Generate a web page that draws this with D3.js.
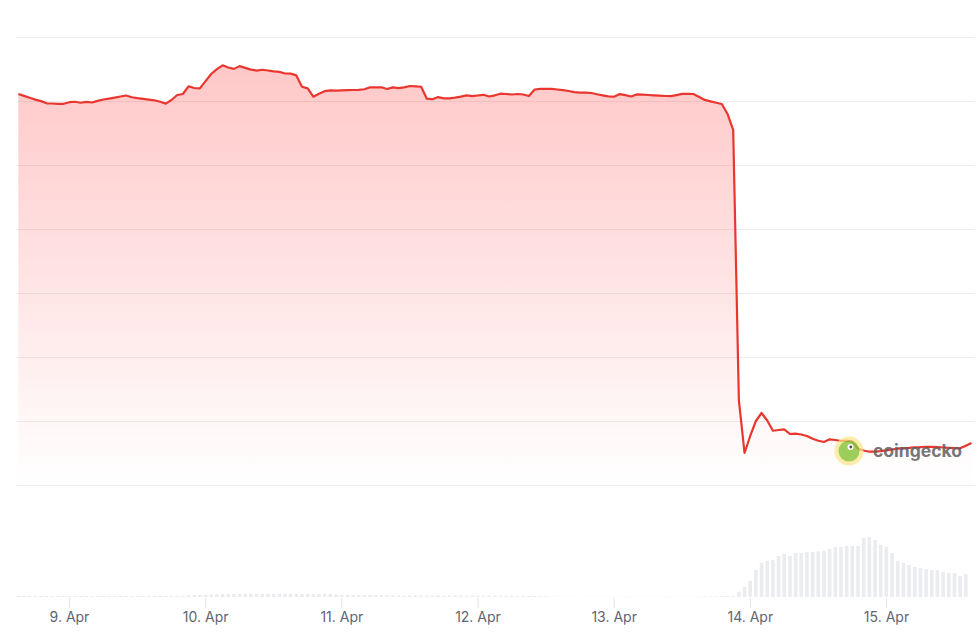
<!DOCTYPE html>
<html>
<head>
<meta charset="utf-8">
<script src="https://cdn.jsdelivr.net/npm/d3@7"></script>
<style>
  body { margin: 0; background: #fff; }
  svg { display: block; font-family: Inter, "Noto Sans", sans-serif; }
</style>
</head>
<body>
<svg id="chart" width="977" height="632"></svg>
<script>
// hourly price (USD), starting 8 Apr 15:04 UTC
var prices = [
  6.109, 6.080, 6.050, 6.022, 5.998, 5.964, 5.961, 5.956, 5.956, 5.981,
  5.988, 5.973, 5.986, 5.977, 6.002, 6.023, 6.038, 6.053, 6.070, 6.086,
  6.059, 6.044, 6.033, 6.022, 6.011, 5.989, 5.959, 6.016, 6.094, 6.109,
  6.230, 6.203, 6.198, 6.311, 6.422, 6.498, 6.558, 6.523, 6.502, 6.545,
  6.517, 6.491, 6.475, 6.488, 6.477, 6.463, 6.455, 6.430, 6.427, 6.400,
  6.222, 6.198, 6.067, 6.113, 6.153, 6.166, 6.163, 6.166, 6.169, 6.172,
  6.175, 6.184, 6.214, 6.214, 6.214, 6.188, 6.213, 6.202, 6.213, 6.234,
  6.230, 6.223, 6.036, 6.027, 6.061, 6.042, 6.042, 6.053, 6.069, 6.088,
  6.075, 6.086, 6.097, 6.070, 6.089, 6.114, 6.109, 6.102, 6.109, 6.102,
  6.078, 6.180, 6.188, 6.188, 6.188, 6.180, 6.169, 6.156, 6.139, 6.130,
  6.130, 6.125, 6.105, 6.089, 6.072, 6.066, 6.108, 6.091, 6.070, 6.103,
  6.100, 6.094, 6.089, 6.083, 6.078, 6.075, 6.092, 6.111, 6.113, 6.109,
  6.063, 6.017, 5.994, 5.973, 5.953, 5.797, 5.547, 1.328, 0.500, 0.766,
  1.000, 1.125, 1.008, 0.848, 0.859, 0.870, 0.797, 0.802, 0.789, 0.766,
  0.722, 0.692, 0.672, 0.714, 0.703, 0.688, 0.688, 0.681, 0.564, 0.539,
  0.520, 0.520, 0.528, 0.541, 0.555, 0.567, 0.577, 0.581, 0.588, 0.592,
  0.598, 0.595, 0.591, 0.586, 0.581, 0.577, 0.573, 0.614, 0.656
];

// 24h volume (million USD), same hours
var volumes = [
  18, 17, 18, 16, 17, 18, 19, 17, 16, 18,
  17, 18, 17, 16, 18, 17, 18, 19, 18, 17,
  18, 17, 16, 18, 19, 18, 17, 20, 22, 24,
  30, 34, 38, 42, 46, 50, 52, 54, 55, 54,
  55, 56, 54, 55, 54, 56, 55, 54, 55, 54,
  55, 54, 53, 52, 54, 53, 44, 40, 38, 38,
  37, 36, 36, 35, 34, 32, 28, 27, 27, 26,
  27, 28, 27, 26, 27, 26, 25, 27, 26, 25,
  26, 25, 24, 25, 24, 23, 24, 23, 22, 20,
  18, 16, 15, 12, 8, 6, 5, 5, 5, 5,
  5, 5, 5, 5, 5, 5, 5, 5, 5, 5,
  5, 5, 5, 5, 5, 5, 5, 5, 5, 5,
  6, 8, 10, 12, 14, 18, 22, 89, 179, 286,
  482, 607, 643, 661, 732, 768, 732, 786, 786, 804,
  804, 813, 822, 857, 893, 893, 911, 911, 911, 1054,
  1072, 1018, 929, 893, 786, 643, 607, 572, 536, 518,
  500, 482, 482, 447, 429, 429, 375, 411, 0
];

var priceTicks = [0, 1, 2, 3, 4, 5, 6, 7];
var dayTicks = [9, 10, 11, 12, 13, 14, 15]; // April 2025

var startTime = Date.UTC(2025, 3, 8, 15, 4);
var hour = 3600 * 1000;

var data = prices.map(function (p, i) {
    return { t: new Date(startTime + i * hour), price: p, vol: volumes[i] };
});

var svg = d3.select("#chart");

var x = d3.scaleUtc()
    .domain([new Date(Date.UTC(2025, 3, 9)), new Date(Date.UTC(2025, 3, 15))])
    .range([69, 886]);
var yPrice = d3.scaleLinear().domain([0, 7]).range([485, 37]);
var yVol = d3.scaleLinear().domain([0, 2000]).range([597, 485]);

//## grid lines
svg.append("g")
    .selectAll("line")
    .data(priceTicks)
    .enter().append("line")
    .attr("x1", 16)
    .attr("x2", 975)
    .attr("y1", function (d) { return Math.round(yPrice(d)) + 0.5; })
    .attr("y2", function (d) { return Math.round(yPrice(d)) + 0.5; })
    .attr("stroke", "#ededed")
    .attr("stroke-width", 1);

//## volume bars
var barW = 3.6;
svg.append("g")
    .selectAll("rect")
    .data(data)
    .enter().append("rect")
    .attr("x", function (d) { return x(d.t) - barW / 2; })
    .attr("width", barW)
    .attr("y", function (d) { return yVol(d.vol); })
    .attr("height", function (d) { return yVol(0) - yVol(d.vol); })
    .attr("fill", "#eaecf0");

//## area gradient
var defs = svg.append("defs");
var grad = defs.append("linearGradient")
    .attr("id", "fillGrad")
    .attr("gradientUnits", "userSpaceOnUse")
    .attr("x1", 0).attr("x2", 0)
    .attr("y1", yPrice(7)).attr("y2", yPrice(0));
grad.append("stop").attr("offset", "0%").attr("stop-color", "#ff3b3b").attr("stop-opacity", 0.3);
grad.append("stop").attr("offset", "100%").attr("stop-color", "#ff3b3b").attr("stop-opacity", 0.0);

var area = d3.area()
    .x(function (d) { return x(d.t); })
    .y0(yPrice(0))
    .y1(function (d) { return yPrice(d.price); });

var line = d3.line()
    .x(function (d) { return x(d.t); })
    .y(function (d) { return yPrice(d.price); });

svg.append("path")
    .datum(data)
    .attr("d", area)
    .attr("fill", "url(#fillGrad)");

svg.append("path")
    .datum(data)
    .attr("d", line)
    .attr("fill", "none")
    .attr("stroke", "#e9372f")
    .attr("stroke-width", 2.2)
    .attr("stroke-linejoin", "round");

//## x axis
var xAxis = d3.axisBottom(x)
    .tickValues(dayTicks.map(function (d) { return new Date(Date.UTC(2025, 3, d)); }))
    .tickFormat(d3.utcFormat("%-d. %b"))
    .tickSize(10)
    .tickPadding(4);

var gx = svg.append("g")
    .attr("transform", "translate(0,598)")
    .call(xAxis);
gx.select(".domain").remove();
gx.selectAll(".tick line").attr("stroke", "#dfe3ea");
gx.selectAll(".tick text")
    .attr("fill", "#5f6673")
    .style("font-size", "14px")
    .style("font-family", "Inter, 'Noto Sans', sans-serif");

//## watermark
var wm = svg.append("g").attr("transform", "translate(849,451)").attr("opacity", 0.85);
wm.append("circle").attr("r", 14.5).attr("fill", "#fde68a").attr("opacity", 0.85);
wm.append("circle").attr("r", 10.5).attr("fill", "#8dc63f");
wm.append("circle").attr("cx", 1.5).attr("cy", -4).attr("r", 3).attr("fill", "#fff");
wm.append("circle").attr("cx", 1.8).attr("cy", -4).attr("r", 1.4).attr("fill", "#333");
wm.append("text")
    .attr("x", 24)
    .attr("y", 6)
    .attr("fill", "#606060")
    .style("font-size", "17.5px")
    .style("font-weight", "700")
    .style("font-family", "Inter, 'Noto Sans', sans-serif")
    .text("coingecko");
</script>
</body>
</html>
